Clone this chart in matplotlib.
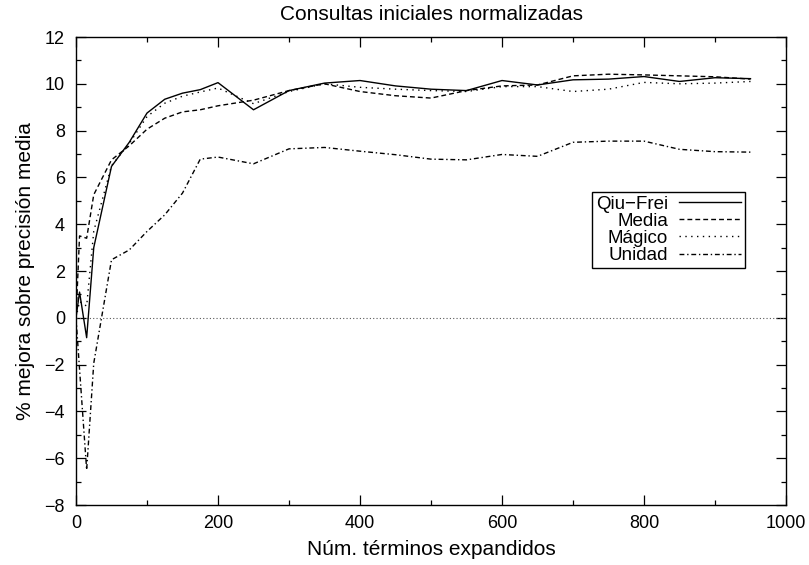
import matplotlib
matplotlib.use("Agg")
import matplotlib.pyplot as plt
from matplotlib.ticker import MultipleLocator

plt.rcParams['font.family'] = ['Liberation Sans', 'DejaVu Sans']

x_terms = [0, 5, 15, 25, 50, 75, 100, 125, 150, 175, 200, 250, 300, 350, 400,
           450, 500, 550, 600, 650, 700, 750, 800, 850, 900, 950]

qiu_frei = [0, 1.1, -0.85, 3.0, 6.47, 7.5, 8.75, 9.34, 9.6, 9.75, 10.05, 8.89,
            9.71, 10.03, 10.14, 9.91, 9.77, 9.71, 10.14, 9.95, 10.17, 10.2,
            10.31, 10.1, 10.26, 10.22]
media = [0, 3.5, 3.4, 5.26, 6.75, 7.35, 8.06, 8.53, 8.8, 8.89, 9.06, 9.3,
         9.71, 10.0, 9.67, 9.49, 9.39, 9.71, 9.91, 9.95, 10.34, 10.41, 10.38,
         10.34, 10.3, 10.2]
magico = [0, 0.7, 0.5, 3.7, 6.5, 7.45, 8.6, 9.17, 9.47, 9.65, 9.82, 9.15,
          9.67, 10.0, 9.85, 9.77, 9.71, 9.67, 9.88, 9.88, 9.67, 9.77, 10.06,
          10.0, 10.03, 10.1]
unidad = [0, -2.2, -6.5, -1.94, 2.48, 2.9, 3.69, 4.4, 5.33, 6.78, 6.87, 6.58,
          7.22, 7.28, 7.12, 6.97, 6.78, 6.75, 6.98, 6.9, 7.5, 7.55, 7.55, 7.2,
          7.1, 7.08]

series_names = ['Qiu\u2212Frei', 'Media', 'M\u00e1gico', 'Unidad']
series_values = [qiu_frei, media, magico, unidad]
series_styles = ['-', (0, (3.5, 2.2)), (0, (1, 3.2)), (0, (3.5, 2, 1, 2))]

fig = plt.figure(figsize=(8.09, 5.65), dpi=100)
ax = fig.add_axes([76 / 809, 60 / 565, 710 / 809, 468 / 565])

ax.plot([0, 1000], [0, 0], color='0.35', lw=0.8, linestyle=(0, (1, 2)))

for name, vals, ls in zip(series_names, series_values, series_styles):
    ax.plot(x_terms, vals, color='black', lw=1.0, linestyle=ls, label=name)

ax.set_xlim(0, 1000)
ax.set_ylim(-8, 12)
ax.xaxis.set_major_locator(MultipleLocator(200))
ax.xaxis.set_minor_locator(MultipleLocator(100))
ax.yaxis.set_major_locator(MultipleLocator(2))
ax.yaxis.set_minor_locator(MultipleLocator(1))
ax.tick_params(which='both', direction='in', top=True, right=True,
               width=0.9, labelsize=13)
ax.tick_params(which='major', length=7)
ax.tick_params(which='minor', length=3.5)
ax.tick_params(axis='y', pad=8)
ax.tick_params(axis='x', pad=7)
for s in ax.spines.values():
    s.set_linewidth(1.0)

ax.set_title('Consultas iniciales normalizadas', fontsize=15, pad=12)
ax.set_xlabel('N\u00fam. t\u00e9rminos expandidos', fontsize=15, labelpad=6)
ax.set_ylabel('% mejora sobre precisi\u00f3n media', fontsize=15, labelpad=7)

leg = ax.legend(loc='upper left', bbox_to_anchor=(0.727, 0.669),
                borderaxespad=0, markerfirst=False, fancybox=False,
                fontsize=13.5, labelspacing=0.0, handlelength=3.3,
                handletextpad=0.6, borderpad=0.2, framealpha=1)
leg.get_frame().set_edgecolor('black')
leg.get_frame().set_linewidth(1.0)

fig.savefig('out.png', dpi=100)
